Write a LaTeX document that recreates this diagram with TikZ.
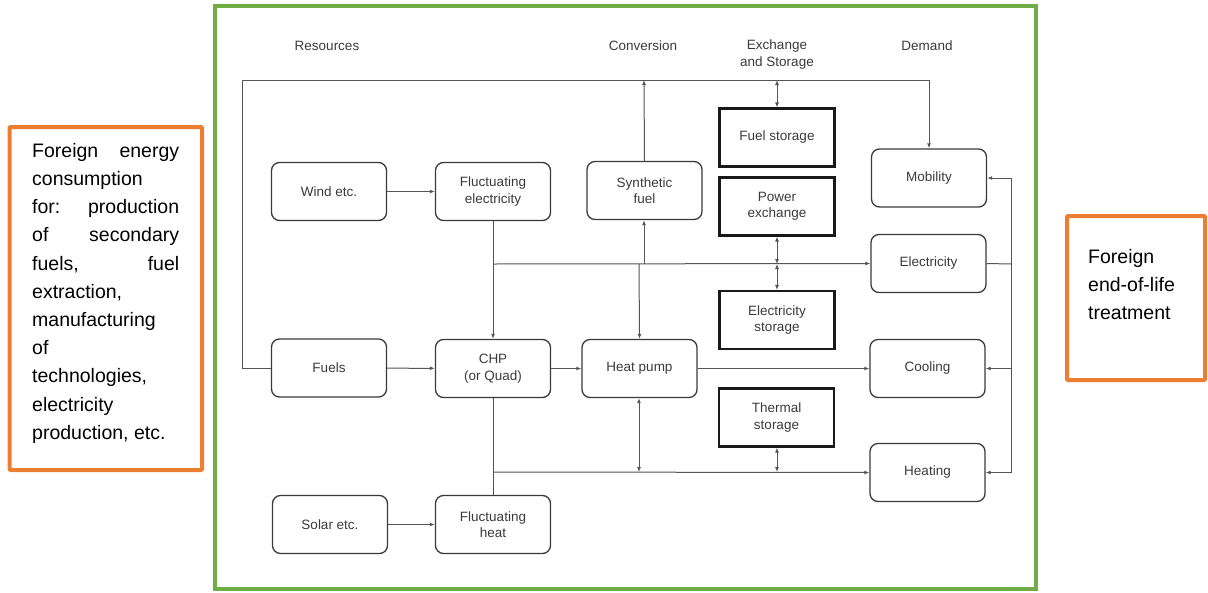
\documentclass[tikz,border=0pt]{standalone}
\usepackage{fontspec}
\setmainfont{Liberation Sans}
\usetikzlibrary{arrows.meta}
\definecolor{framegreen}{HTML}{70AD47}
\definecolor{noteorange}{HTML}{ED7D31}
\definecolor{ink}{HTML}{3A3A3A}
\definecolor{wire}{HTML}{555555}
\begin{document}
\begin{tikzpicture}[x=1pt,y=-1pt,
  lbl/.style={font=\fontsize{13.5}{16.5}\selectfont, text=ink, align=center, inner sep=0pt},
  procbox/.style={lbl, draw=ink, line width=1.3pt, rounded corners=8pt,
    minimum width=115pt, minimum height=58pt},
  storebox/.style={lbl, draw=black!90, line width=2.1pt,
    minimum width=115pt, minimum height=58pt},
  wireline/.style={draw=wire, line width=1pt},
  arr/.style={wireline, -{Latex[length=5pt,width=4pt]}},
  dblarr/.style={wireline, {Latex[length=5pt,width=4pt]}-{Latex[length=5pt,width=4pt]}},
  notetext/.style={font=\fontsize{19.5}{28.2}\selectfont, text=black, inner sep=0pt, align=left}
]
\useasboundingbox (0,0) rectangle (1208,592);

% outer frames
\draw[framegreen, line width=4pt] (215,6) rectangle (1036,589);
\draw[noteorange, line width=4pt, rounded corners=1pt] (9.5,127) rectangle (202,470);
\draw[noteorange, line width=4pt, rounded corners=1pt] (1067,216) rectangle (1205,380);

% side notes
\node[notetext, anchor=north west] (leftnote) at (32,143) {%
  \makebox[147pt][s]{Foreign energy}\\
  consumption\\
  \makebox[147pt][s]{for: production}\\
  \makebox[147pt][s]{of secondary}\\
  \makebox[147pt][s]{fuels, fuel}\\
  extraction,\\
  manufacturing\\
  of\\
  technologies,\\
  electricity\\
  production, etc.};
\node[notetext, anchor=north west] (rightnote) at (1088,249) {Foreign\\end-of-life\\treatment};

% column headers
\node[lbl] (hres) at (327,46) {Resources};
\node[lbl] (hconv) at (643,46) {Conversion};
\node[lbl] (hexch) at (777,54.5) {Exchange\\and Storage};
\node[lbl] (hdem) at (927,46) {Demand};

% resources
\node[procbox] (wind) at (329,191.5) {Wind etc.};
\node[procbox] (fuels) at (329,368) {Fuels};
\node[procbox] (solar) at (330,524.5) {Solar etc.};

% conversion
\node[procbox] (fel) at (493,191.5) {Fluctuating\\electricity};
\node[procbox] (chp) at (493,368.5) {CHP\\(or Quad)};
\node[procbox] (fheat) at (493,524.5) {Fluctuating\\heat};
\node[procbox] (syn) at (644.5,190.5) {Synthetic\\fuel};
\node[procbox] (hp) at (639.5,368.5) {Heat pump};

% exchange and storage
\node[storebox] (fstore) at (777,137.5) {Fuel storage};
\node[storebox] (pex) at (777,206.5) {Power\\exchange};
\node[storebox] (estore) at (777,320) {Electricity\\storage};
\node[storebox] (tstore) at (776.5,417.5) {Thermal\\storage};

% demand
\node[procbox] (mob) at (929,178) {Mobility};
\node[procbox] (elec) at (928.5,263.5) {Electricity};
\node[procbox] (cool) at (927.5,368.5) {Cooling};
\node[procbox] (heat) at (927.5,472.5) {Heating};

% junction points
\coordinate (fuelL) at (242,368);
\coordinate (fuelTL) at (242,80);
\coordinate (fuelTR) at (929,80);
\coordinate (synTop) at (644,80);
\coordinate (fsTop) at (777,80);
\coordinate (elStart) at (493,264);
\coordinate (elSyn) at (644,264);
\coordinate (elHp) at (639,264);
\coordinate (elEx) at (777,264);
\coordinate (htStart) at (493,472);
\coordinate (htHp) at (639,472);
\coordinate (htTs) at (777,472);
\coordinate (busTop) at (1011,178);
\coordinate (busEl) at (1011,264);
\coordinate (busCool) at (1011,368.5);
\coordinate (busBot) at (1011,472.5);

% resource inputs
\draw[arr] (wind) -- (fel);
\draw[arr] (fuels) -- (chp);
\draw[arr] (solar) -- (fheat);
\draw[arr] (fel) -- (chp);
\draw[arr] (chp) -- (hp);
\draw[wireline] (chp.south) -- (fheat.north);

% fuel loop along the top
\draw[arr] (fuels.west) -- (fuelL) -- (fuelTL) -- (fuelTR) -- (mob.north);
\draw[arr] (syn.north) -- (synTop);
\draw[dblarr] (fsTop) -- (fstore.north);

% electricity line
\draw[arr] (elStart) -- (elec.west);
\draw[arr] (elSyn) -- (syn.south -| elSyn);
\draw[arr] (elHp) -- (hp.north);
\draw[dblarr] (pex.south) -- (elEx);
\draw[dblarr] (elEx) -- (estore.north);

% heat line
\draw[arr] (htStart) -- (heat.west);
\draw[dblarr] (hp.south -| htHp) -- (htHp);
\draw[dblarr] (tstore.south -| htTs) -- (htTs);
\draw[arr] (hp.east) -- (cool.west);

% demand bus on the right
\draw[wireline] (elec.east) -- (busEl);
\draw[wireline] (busTop) -- (busBot);
\draw[arr] (busTop) -- (mob.east);
\draw[arr] (busCool) -- (cool.east);
\draw[arr] (busBot) -- (heat.east);
\end{tikzpicture}
\end{document}
